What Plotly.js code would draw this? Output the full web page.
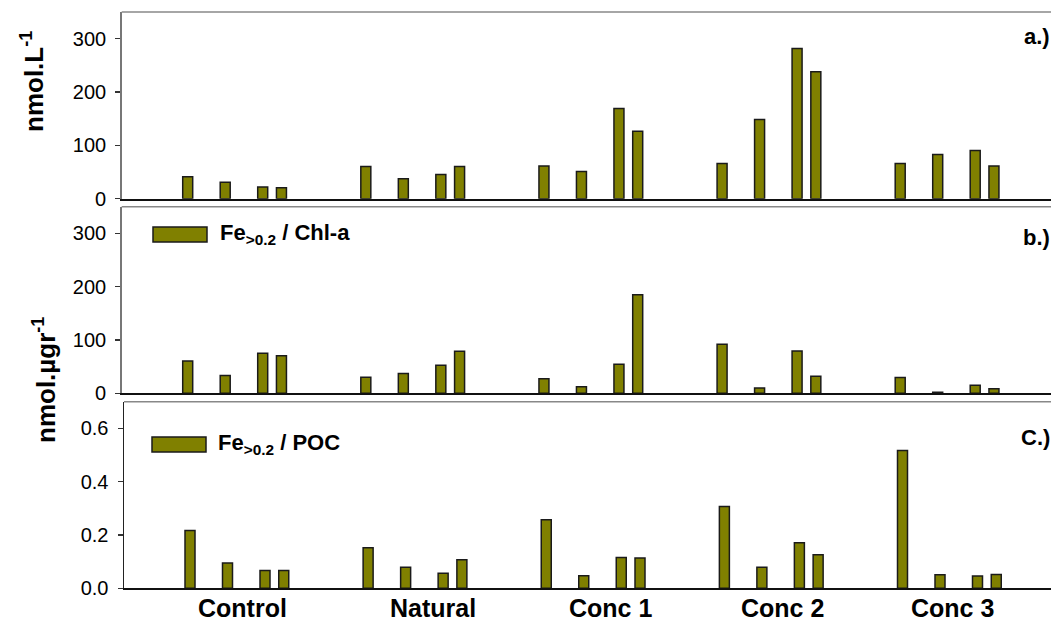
<!DOCTYPE html>
<html>
<head>
<meta charset="utf-8">
<script src="https://cdn.plot.ly/plotly-3.0.1.min.js"></script>
<style>html,body{margin:0;padding:0;background:#fff;}#chart{width:1051px;height:621px;}</style>
</head>
<body>
<div id="chart"></div>
<script>
// ---- data ----
const treatments = ["Control", "Natural", "Conc 1", "Conc 2", "Conc 3"];
const sampleDays = [0, 2, 4, 5];
// panel a: Fe>0.2 (nmol.L-1)
const feTotal = [
  [41, 31, 22, 20.5],
  [60.5, 37.5, 45.5, 60.5],
  [61.5, 51, 169, 126.5],
  [66, 148.5, 281.5, 238],
  [66, 83, 90.5, 61.5]
];
// panel b: Fe>0.2 / Chl-a (nmol.µgr-1)
const feChl = [
  [60.5, 33.5, 75, 70.5],
  [30, 37, 52.5, 79],
  [27.5, 12.5, 54.5, 185],
  [92, 10, 79.5, 32],
  [29.5, 2, 15, 8.5]
];
// panel c: Fe>0.2 / POC
const fePoc = [
  [0.217, 0.095, 0.067, 0.067],
  [0.152, 0.079, 0.056, 0.107],
  [0.257, 0.047, 0.116, 0.114],
  [0.307, 0.079, 0.171, 0.126],
  [0.517, 0.051, 0.046, 0.052]
];
const tickLabels = treatments;

// ---- layout constants ----
const W = 1051, H = 621;
const U = 18.75;          // px per day unit
const firstOffset = 3.52; // units from axis to first bar
const groupStep = 9.5;    // units between treatment groups
const labelPos = [6.33, 16.46, 25.96, 35.12, 44.17];
const olive = "#808000";

function xs() {
  const out = [];
  treatments.forEach((t, g) => sampleDays.forEach(d => out.push(firstOffset + g * groupStep + d)));
  return out;
}
function flat(a) { return a.reduce((p, c) => p.concat(c), []); }

const barStyle = {color: olive, line: {color: "#1a1a1a", width: 1.5}};
const bw = 10 / U;
const traces = [
  {type: "bar", x: xs(), y: flat(feTotal), width: bw, marker: barStyle, xaxis: "x", yaxis: "y", name: "Fe>0.2", hoverinfo: "y"},
  {type: "bar", x: xs(), y: flat(feChl), width: bw, marker: barStyle, xaxis: "x2", yaxis: "y2", name: "Fe>0.2 / Chl-a", hoverinfo: "y"},
  {type: "bar", x: xs(), y: flat(fePoc), width: bw, marker: barStyle, xaxis: "x3", yaxis: "y3", name: "Fe>0.2 / POC", hoverinfo: "y"}
];

const tickFont = {family: "Liberation Sans, Arial, sans-serif", size: 20, color: "#000"};
function yAx(top, bottom, range, dtick, fmt, lineColor) {
  return {
    domain: [1 - bottom / H, 1 - top / H], range: range, dtick: dtick, tickformat: fmt,
    showgrid: false, zeroline: false, showline: true, linecolor: lineColor, linewidth: 1.5,
    ticks: "outside", ticklen: 5, tickcolor: "#333", tickwidth: 1.2,
    tickfont: tickFont, ticklabelstandoff: 5, fixedrange: true
  };
}
function xAx(left, anchor) {
  return {
    domain: [left / W, 1], range: [0, (W - left) / U], anchor: anchor,
    showgrid: false, zeroline: false, showline: true, linecolor: "#111", linewidth: 2,
    ticks: "", showticklabels: false, fixedrange: true
  };
}

const panels = [
  {top: 12, bottom: 198.7, left: 121.7},
  {top: 206.7, bottom: 393.3, left: 121.7},
  {top: 401.7, bottom: 588.3, left: 124}
];

const shapes = [];
["", "2", "3"].forEach((s) => {
  shapes.push({type: "line", xref: "x" + s + " domain", yref: "y" + s + " domain", x0: 0, x1: 1, y0: 1, y1: 1,
    line: {color: "#888", width: 1.5}});
});
function px(x) { return x / W; }
function py(y) { return 1 - y / H; }
// legend swatches
shapes.push({type: "rect", xref: "paper", yref: "paper", x0: px(153), x1: px(207), y0: py(242), y1: py(227),
  fillcolor: olive, line: {color: "#1a1a1a", width: 1.5}});
shapes.push({type: "rect", xref: "paper", yref: "paper", x0: px(152), x1: px(206), y0: py(452), y1: py(437),
  fillcolor: olive, line: {color: "#1a1a1a", width: 1.5}});

const boldFont = (sz) => ({family: "Liberation Sans, Arial, sans-serif", size: sz, color: "#000", weight: "bold"});
const annotations = [
  {xref: "paper", yref: "paper", x: px(32), y: py(82), text: "<b>nmol.L<sup>-1</sup></b>", textangle: -90,
    showarrow: false, xanchor: "center", yanchor: "middle", font: boldFont(26)},
  {xref: "paper", yref: "paper", x: px(44), y: py(380), text: "<b>nmol.µgr<sup>-1</sup></b>", textangle: -90,
    showarrow: false, xanchor: "center", yanchor: "middle", font: boldFont(26)},
  {xref: "paper", yref: "paper", x: px(218), y: py(234), text: "<b>Fe<sub>>0.2</sub> / Chl-a</b>",
    showarrow: false, xanchor: "left", yanchor: "middle", font: boldFont(22)},
  {xref: "paper", yref: "paper", x: px(216), y: py(444), text: "<b>Fe<sub>>0.2</sub> / POC</b>",
    showarrow: false, xanchor: "left", yanchor: "middle", font: boldFont(22)},
  {xref: "paper", yref: "paper", x: px(1052), y: py(36), text: "<b>a.)</b>",
    showarrow: false, xanchor: "right", yanchor: "middle", font: boldFont(22)},
  {xref: "paper", yref: "paper", x: px(1052), y: py(238), text: "<b>b.)</b>",
    showarrow: false, xanchor: "right", yanchor: "middle", font: boldFont(22)},
  {xref: "paper", yref: "paper", x: px(1052), y: py(437), text: "<b>C.)</b>",
    showarrow: false, xanchor: "right", yanchor: "middle", font: boldFont(22)}
];
// treatment labels under the bottom panel
tickLabels.forEach((t, i) => {
  annotations.push({xref: "x3", yref: "paper", x: labelPos[i], y: py(608), text: "<b>" + t + "</b>",
    showarrow: false, xanchor: "center", yanchor: "middle", font: boldFont(25)});
});

const layout = {
  width: W, height: H, margin: {l: 0, r: 0, t: 0, b: 0},
  paper_bgcolor: "#fff", plot_bgcolor: "rgba(0,0,0,0)",
  showlegend: false, bargap: 0,
  xaxis: xAx(panels[0].left, "y"),
  xaxis2: xAx(panels[1].left, "y2"),
  xaxis3: xAx(panels[2].left, "y3"),
  yaxis: yAx(panels[0].top, panels[0].bottom, [0, 350], 100, "d", "#777"),
  yaxis2: yAx(panels[1].top, panels[1].bottom, [0, 350], 100, "d", "#777"),
  yaxis3: yAx(panels[2].top, panels[2].bottom, [0, 0.7], 0.2, ".1f", "#222"),
  shapes: shapes, annotations: annotations
};
layout.yaxis.anchor = "x"; layout.yaxis2.anchor = "x2"; layout.yaxis3.anchor = "x3";

Plotly.newPlot("chart", traces, layout, {displayModeBar: false, staticPlot: true});
</script>
</body>
</html>
